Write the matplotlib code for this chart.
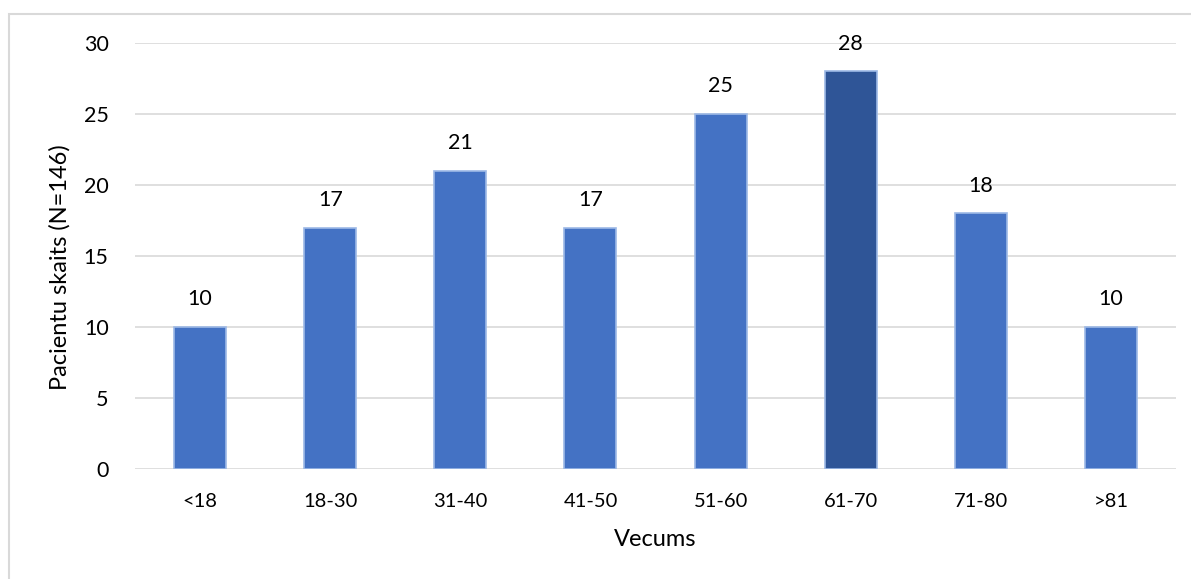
import matplotlib.pyplot as plt
from matplotlib.patches import Rectangle

categories = ['<18', '18-30', '31-40', '41-50', '51-60', '61-70', '71-80', '>81']
patients = [10, 17, 21, 17, 25, 28, 18, 10]
highlight = '61-70'

plt.rcParams['font.family'] = ['Lato', 'DejaVu Sans']

fig = plt.figure(figsize=(11.91, 5.79), dpi=100)
ax = fig.add_axes([0.1134, 0.19, 0.8740, 0.7357])

colors = ['#2F5597' if c == highlight else '#4472C4' for c in categories]
bars = ax.bar(range(len(categories)), patients, width=0.4, color=colors,
              edgecolor='#9DB9E6', linewidth=1.2, zorder=3)

for b, v in zip(bars, patients):
    ax.text(b.get_x() + b.get_width() / 2, v + 1.25, str(v),
            ha='center', va='bottom', fontsize=15.5, color='black')

ax.set_xlim(-0.5, len(categories) - 0.5)
ax.set_ylim(0, 30)
ax.set_yticks(range(0, 31, 5))
ax.set_xticks(range(len(categories)))
ax.set_xticklabels(categories, fontsize=14.5)
ax.tick_params(axis='y', labelsize=15.5, length=0, pad=19)
ax.tick_params(axis='x', length=0, pad=17)
ax.yaxis.grid(True, color='#D9D9D9', linewidth=1.2, zorder=0)
for s in ax.spines.values():
    s.set_visible(False)

ax.set_ylabel('Pacientu skaits (N=146)', fontsize=17)
ax.yaxis.set_label_coords(-0.062, 0.475)
ax.set_xlabel('Vecums', fontsize=17, labelpad=14)

# outer chart frame
fig.patches.append(Rectangle((8.5 / 1191, -0.1), 1.2, 1 - 14 / 579 + 0.1,
                             transform=fig.transFigure, fill=False,
                             edgecolor='#D9D9D9', linewidth=1.5))

fig.savefig('out.png', dpi=100)
